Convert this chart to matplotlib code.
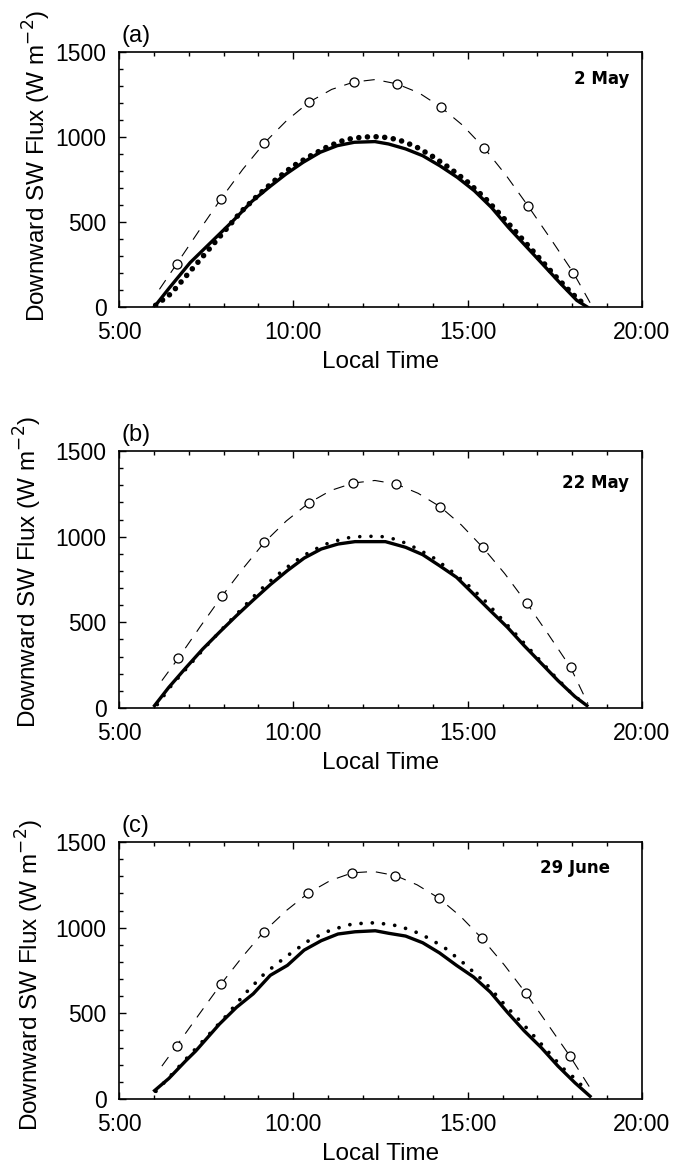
import matplotlib
matplotlib.use('Agg')
import matplotlib.pyplot as plt
from matplotlib.ticker import MultipleLocator, FixedLocator, FixedFormatter

plt.rcParams['font.family'] = ['Liberation Sans', 'DejaVu Sans']

# ---------------- data (hours local time, W m-2) ----------------
# Panel (a) 2 May
a_circ_t = [6.65, 7.92, 9.17, 10.45, 11.73, 12.96, 14.23, 15.48, 16.74, 18.03]
a_circ_v = [252, 635, 965, 1205, 1323, 1313, 1176, 934, 592, 202]
a_dash_t = [6.16, 6.65, 7.3, 7.92, 8.55, 9.17, 9.8, 10.45, 11.1, 11.73, 12.35, 12.96,
            13.6, 14.23, 14.85, 15.48, 16.1, 16.74, 17.4, 18.03, 18.58]
a_dash_v = [104, 252, 450, 635, 810, 965, 1095, 1205, 1280, 1323, 1338, 1313,
            1260, 1176, 1070, 934, 775, 592, 395, 202, 0]
a_solid_t = [6.01, 6.45, 7.04, 7.83, 8.32, 8.81, 9.3, 9.79, 10.28, 10.77, 11.26, 11.75,
             12.34, 12.73, 13.22, 13.71, 14.2, 14.7, 15.19, 15.68, 16.17, 16.66, 17.15,
             17.64, 18.13, 18.43]
a_solid_v = [0, 114, 261, 419, 517, 621, 704, 782, 851, 910, 949, 969,
             973, 959, 930, 890, 831, 763, 684, 586, 468, 360, 252,
             143, 39, 0]
a_dot_t = [6.05, 6.5, 7.0, 7.5, 8.0, 8.5, 9.0, 9.5, 10.0, 10.5, 11.0, 11.5, 12.0, 12.5,
           13.0, 13.5, 14.0, 14.5, 15.0, 15.5, 16.0, 16.5, 17.0, 17.5, 18.0, 18.4]
a_dot_v = [10, 80, 200, 320, 440, 560, 660, 750, 830, 890, 945, 985, 1000, 1002,
           985, 945, 885, 815, 735, 640, 530, 415, 300, 185, 78, 5]

# Panel (b) 22 May
b_circ_t = [6.70, 7.95, 9.17, 10.44, 11.72, 12.95, 14.21, 15.43, 16.69, 17.95]
b_circ_v = [290, 652, 967, 1196, 1313, 1307, 1175, 938, 613, 237]
b_dash_t = [6.23, 6.70, 7.33, 7.95, 8.56, 9.17, 9.8, 10.44, 11.08, 11.72, 12.34, 12.95,
            13.58, 14.21, 14.82, 15.43, 16.06, 16.69, 17.32, 17.95, 18.45]
b_dash_v = [160, 290, 475, 652, 815, 967, 1092, 1196, 1270, 1313, 1328, 1307,
            1253, 1175, 1068, 938, 785, 613, 428, 237, 25]
b_solid_t = [6.02, 6.43, 6.91, 7.40, 7.88, 8.37, 8.85, 9.34, 9.83, 10.31, 10.80, 11.28,
             11.77, 12.64, 13.22, 13.71, 14.19, 14.68, 15.17, 15.65, 16.14, 16.62,
             17.11, 17.59, 18.08, 18.42]
b_solid_v = [14, 121, 233, 344, 442, 539, 630, 720, 802, 875, 928, 957,
             971, 971, 938, 895, 831, 763, 665, 568, 471, 364,
             261, 160, 66, 14]
b_dot_t = [6.1, 6.5, 7.0, 7.5, 8.0, 8.5, 9.0, 9.5, 10.0, 10.5, 11.0, 11.5, 12.0, 12.5,
           13.0, 13.5, 14.0, 14.5, 15.0, 15.5, 16.0, 16.5, 17.0, 17.5, 18.0, 18.4]
b_dot_v = [20, 130, 245, 360, 470, 575, 680, 770, 850, 915, 962, 992, 1002, 1002,
           982, 935, 880, 805, 720, 625, 515, 405, 295, 185, 82, 15]

# Panel (c) 29 June
c_circ_t = [6.65, 7.93, 9.15, 10.43, 11.69, 12.93, 14.17, 15.41, 16.67, 17.93]
c_circ_v = [310, 672, 976, 1202, 1320, 1304, 1173, 937, 618, 251]
c_dash_t = [6.23, 6.65, 7.3, 7.93, 8.54, 9.15, 9.8, 10.43, 11.06, 11.69, 12.3, 12.93,
            13.55, 14.17, 14.8, 15.41, 16.04, 16.67, 17.3, 17.93, 18.51]
c_dash_v = [192, 310, 495, 672, 830, 976, 1100, 1202, 1275, 1320, 1328, 1304,
            1250, 1173, 1065, 937, 785, 618, 435, 251, 65]
c_solid_t = [6.02, 6.43, 6.91, 7.2, 7.88, 8.37, 8.85, 9.34, 9.83, 10.31, 10.8, 11.28,
             11.77, 12.35, 12.74, 13.22, 13.71, 14.19, 14.68, 15.17, 15.65, 16.14,
             16.62, 17.11, 17.59, 18.08, 18.51]
c_solid_v = [49, 120, 222, 280, 437, 535, 614, 722, 780, 869, 924, 963,
             976, 982, 967, 951, 912, 853, 780, 712, 624, 506,
             398, 300, 192, 94, 16]
c_dot_t = [6.06, 6.38, 6.91, 7.5, 8.06, 8.61, 9.17, 9.78, 10.46, 11.07, 11.7, 12.37,
           13.03, 13.66, 14.31, 14.9, 15.49, 16.04, 16.59, 17.16, 17.72, 18.13, 18.42]
c_dot_v = [45, 114, 231, 359, 482, 614, 731, 829, 927, 986, 1022, 1029,
           1010, 963, 888, 790, 682, 555, 437, 310, 182, 110, 45]

panel_labels = ['(a)', '(b)', '(c)']
date_labels = ['2 May', '22 May', '29 June']
xtick_vals = [5, 10, 15, 20]
xtick_labels = ['5:00', '10:00', '15:00', '20:00']
ytick_vals = [0, 500, 1000, 1500]

panels = [
    (a_dash_t, a_dash_v, a_circ_t, a_circ_v, a_dot_t, a_dot_v, a_solid_t, a_solid_v),
    (b_dash_t, b_dash_v, b_circ_t, b_circ_v, b_dot_t, b_dot_v, b_solid_t, b_solid_v),
    (c_dash_t, c_dash_v, c_circ_t, c_circ_v, c_dot_t, c_dot_v, c_solid_t, c_solid_v),
]

# ---------------- layout / styles ----------------
W, H = 675, 1167
fig = plt.figure(figsize=(W / 100, H / 100), dpi=100)
ax_boxes = [(119, 52, 642, 307), (119, 451, 642, 708), (119, 842, 642, 1099)]
date_pos = [(0.975, 0.894), (0.975, 0.875), (0.939, 0.90)]
ylab_pos = [(-0.157, 0.553), (-0.175, 0.531), (-0.170, 0.484)]
dot_styles = [dict(lw=4.0, dashes=(0.01, 1.55)), dict(lw=2.6, dashes=(0.01, 3.1)),
              dict(lw=2.7, dashes=(0.01, 3.0))]

for i, (box, data) in enumerate(zip(ax_boxes, panels)):
    x0, y0, x1, y1 = box
    ax = fig.add_axes([x0 / W, 1 - y1 / H, (x1 - x0) / W, (y1 - y0) / H])
    dt, dv, ct, cv, pt, pv, st, sv = data
    ax.plot(dt, dv, color='black', lw=0.8, dashes=(10, 8))
    ax.plot(ct, cv, 'o', mfc='white', mec='black', ms=6.5, mew=0.9)
    ax.plot(pt, pv, color='black', dash_capstyle='round', **dot_styles[i])
    ax.plot(st, sv, color='black', lw=2.4, solid_joinstyle='round')

    ax.set_xlim(5, 20)
    ax.set_ylim(0, 1500)
    ax.xaxis.set_major_locator(FixedLocator(xtick_vals))
    ax.xaxis.set_major_formatter(FixedFormatter(xtick_labels))
    ax.xaxis.set_minor_locator(MultipleLocator(1))
    ax.yaxis.set_major_locator(FixedLocator(ytick_vals))
    ax.yaxis.set_minor_locator(MultipleLocator(100))
    ax.tick_params(which='both', direction='in', top=True, right=False,
                   left=True, bottom=True, width=1.0, labelsize=16.5)
    ax.tick_params(which='major', length=5)
    ax.tick_params(which='minor', length=3)
    ax.tick_params(axis='y', pad=9)
    ax.tick_params(axis='x', pad=10)
    for s in ax.spines.values():
        s.set_linewidth(1.2)

    ax.set_xlabel('Local Time', fontsize=17.5)
    ax.xaxis.set_label_coords(0.5, -0.172)
    ax.set_ylabel('Downward SW Flux (W m$^{-2}$)', fontsize=17.5, va='center', ha='center')
    ax.yaxis.set_label_coords(*ylab_pos[i])

    ax.text(0.005, 1.02, panel_labels[i], transform=ax.transAxes, fontsize=17,
            ha='left', va='bottom')
    ax.text(date_pos[i][0], date_pos[i][1], date_labels[i], transform=ax.transAxes,
            fontsize=12, fontweight='bold', family='DejaVu Sans', ha='right', va='center')

fig.savefig('out.png', dpi=100)
